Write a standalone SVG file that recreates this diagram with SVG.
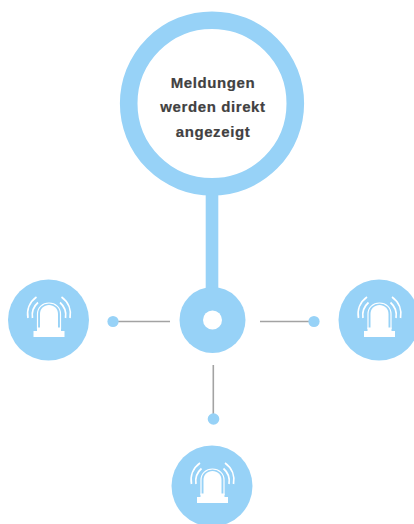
<svg xmlns="http://www.w3.org/2000/svg" width="414" height="524" viewBox="0 0 414 524">
<style>
.b{fill:#97d2f7}
.w{fill:#fff}
.l{stroke:#a3a3a3;stroke-width:1.6;fill:none}
.a{stroke:#fff;stroke-width:1.7;fill:none}
.o{stroke:#fff;stroke-width:1.2;fill:none}
.t{font-family:"Liberation Sans",Arial,sans-serif;font-weight:700;font-size:15px;fill:#414141;text-anchor:middle;letter-spacing:.6px;stroke:#414141;stroke-width:.2}
</style>
<defs>
<g id="icon">
<path class="o" d="M-11.500 9V-6C-11.500-12.500-6.500-17 0-17C6.500-17 11.500-12.500 11.500-6V9"/>
<path class="w" d="M-9 9V-6C-9-11.500-5-15 0-15C5-15 9-11.500 9-6V9Z"/>
<path class="w" d="M-12 7.500H12V11H15.500V17H-15.500V11H-12Z"/>
<path class="a" d="M-12.500-23C-19.500-18-22.500-10-21-2"/>
<path class="a" d="M-11-17.500C-15.500-13.500-17.500-8-16.500-2"/>
<path class="a" d="M12.500-23C19.500-18 22.500-10 21-2"/>
<path class="a" d="M11-17.500C15.500-13.500 17.500-8 16.500-2"/>
</g>
</defs>
<g id="connectors">
<rect class="b" x="205.700" y="190" width="12.600" height="105"/>
<path class="l" d="M113 321.500H170"/>
<path class="l" d="M260 321.500H314"/>
<path class="l" d="M213.300 365V419"/>
<circle class="b" cx="113" cy="321.500" r="5.600"/>
<circle class="b" cx="314" cy="321.500" r="5.600"/>
<circle class="b" cx="213.500" cy="419" r="5.800"/>
</g>
<g id="main">
<circle cx="212" cy="103.500" r="83.300" fill="#fff" stroke="#97d2f7" stroke-width="17.600"/>
<text class="t" x="213" y="88">Meldungen</text>
<text class="t" x="213" y="112">werden direkt</text>
<text class="t" x="213" y="137">angezeigt</text>
</g>
<g id="hub">
<circle class="b" cx="212.500" cy="320" r="33"/>
<circle class="w" cx="212.500" cy="320" r="9.500"/>
</g>
<g id="siren-left"><circle class="b" cx="48.500" cy="320" r="40.500"/><use href="#icon" x="49" y="320"/></g>
<g id="siren-right"><circle class="b" cx="379" cy="320" r="40.500"/><use href="#icon" x="379.500" y="320"/></g>
<g id="siren-bottom"><circle class="b" cx="212" cy="486" r="40.500"/><use href="#icon" x="212.500" y="486"/></g>
</svg>
